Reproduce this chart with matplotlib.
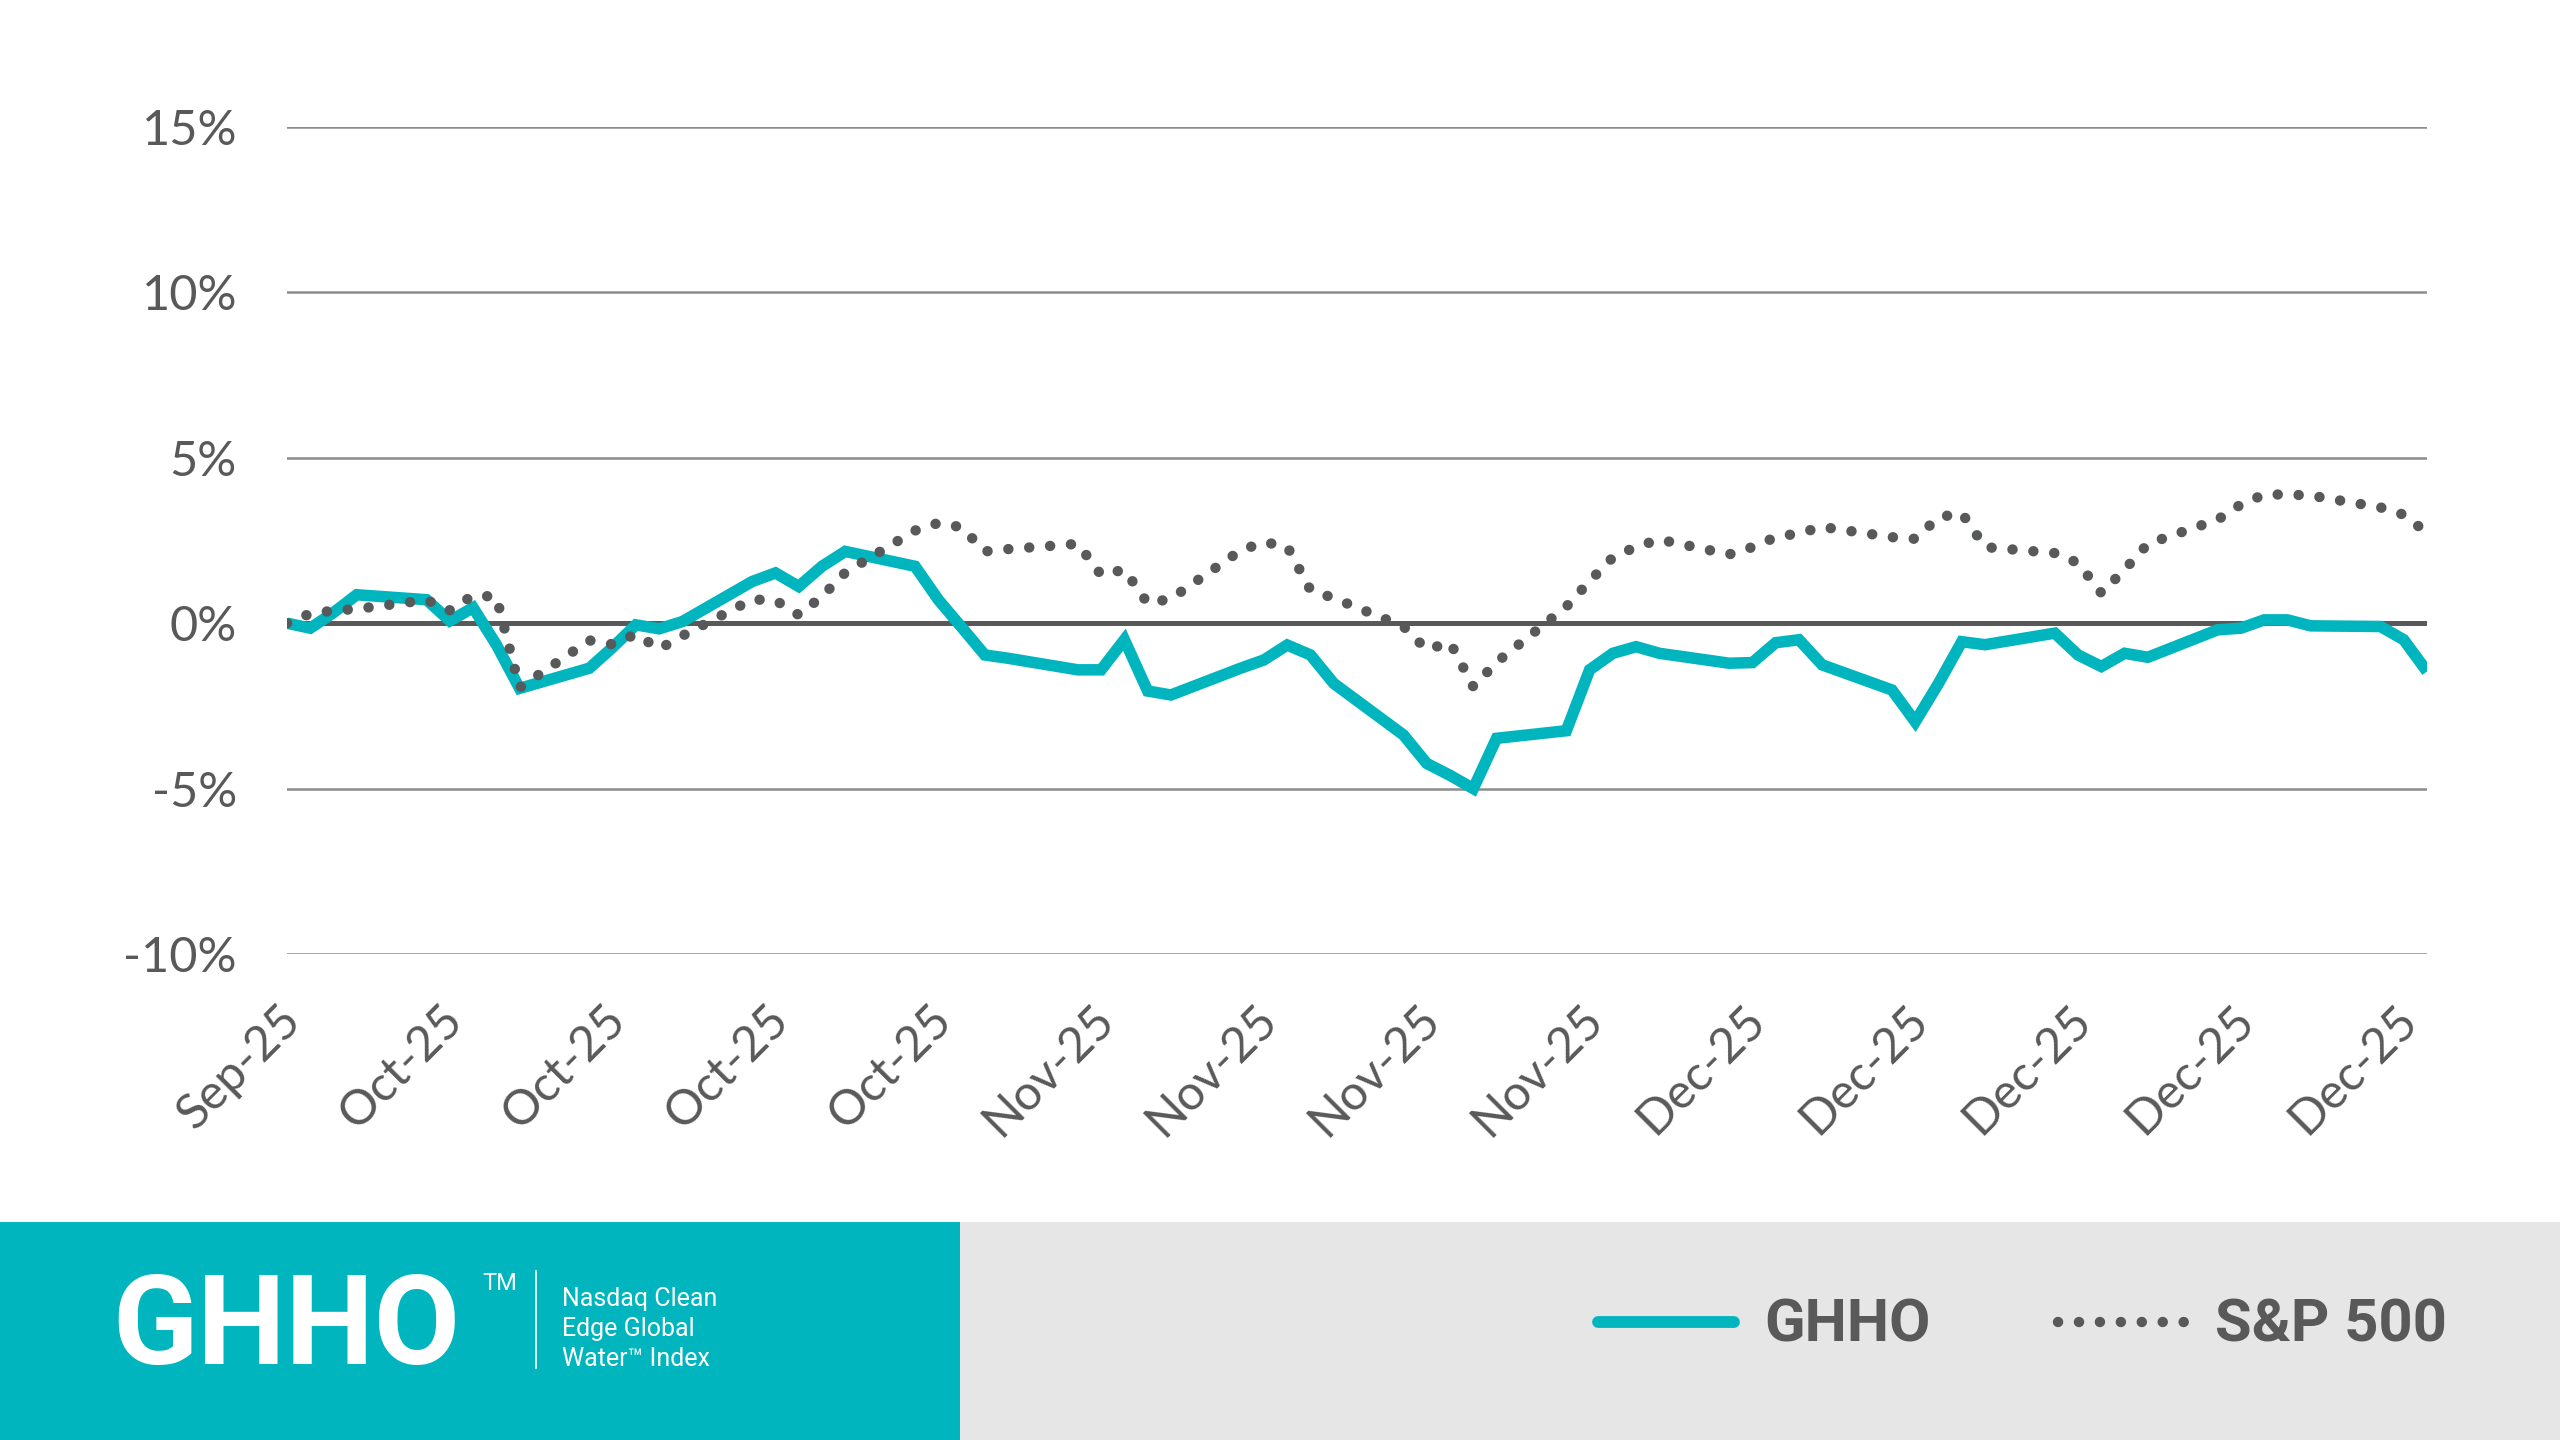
import pandas as pd
import matplotlib.pyplot as plt
import matplotlib.dates as mdates
import matplotlib.transforms as mtransforms
from matplotlib.lines import Line2D
from matplotlib.patches import Rectangle

# trading days (weekdays) shown in the chart
dates = pd.bdate_range("2025-09-30", "2025-12-31")

# cumulative return, %
ghho = [0.0, -0.15, 0.32, 0.86,
        0.71, 0.07, 0.47, -0.65, -1.97,
        -1.36, -0.73, -0.05, -0.17, 0.05,
        1.26, 1.52, 1.11, 1.72, 2.17,
        1.72, 0.71, -0.12, -0.96, -1.06,
        -1.41, -1.41, -0.5, -2.05, -2.17,
        -1.36, -1.11, -0.66, -0.96, -1.82,
        -3.38, -4.24, -4.6, -5.0, -3.48,
        -3.25, -1.41, -0.91, -0.71, -0.91,
        -1.21, -1.19, -0.59, -0.5, -1.26,
        -2.02, -2.98, -1.82, -0.56, -0.65,
        -0.3, -0.96, -1.31, -0.91, -1.03,
        -0.2, -0.15, 0.1, 0.1, -0.08,
        -0.1, -0.5, -1.46]

sp500 = [0.0, 0.29, 0.38, 0.43,
         0.7, 0.39, 0.84, 0.8, -1.95,
         -0.52, -0.64, -0.33, -0.78, -0.38,
         0.72, 0.69, 0.25, 0.81, 1.53,
         2.8, 3.03, 2.9, 2.17, 2.24,
         2.4, 1.46, 1.62, 0.6, 0.74,
         2.2, 2.45, 2.32, 1.0, 0.76,
         -0.1, -0.8, -0.58, -1.92, -1.18,
         0.5, 1.27, 1.99, 2.31, 2.53,
         2.08, 2.3, 2.6, 2.72, 2.91,
         2.6, 2.55, 3.2, 3.33, 2.3,
         2.12, 1.82, 0.91, 1.62, 2.4,
         3.13, 3.59, 3.89, 3.89, 3.86,
         3.5, 3.28, 2.73]

tick_dates = pd.date_range("2025-09-30", "2025-12-30", freq="7D")
y_ticks = [-10, -5, 0, 5, 10, 15]

teal = "#00b5be"
dark = "#58595b"
text_gray = "#595959"
dotted = (0, (0.01, 2.0))

plt.rcParams["font.family"] = ["Lato", "DejaVu Sans"]

fig = plt.figure(figsize=(25.6, 14.4), dpi=100)
fig.patch.set_facecolor("white")

ax = fig.add_axes([287 / 2560, 1 - 954 / 1440, 2140 / 2560, 827 / 1440])
ax.set_facecolor("white")
for s in ax.spines.values():
    s.set_visible(False)

ax.set_ylim(-10, 15)
ax.set_xlim(pd.Timestamp("2025-09-30"), pd.Timestamp("2025-12-31"))
ax.set_yticks(y_ticks)
ax.set_yticklabels([f"{v}%" for v in y_ticks])
ax.yaxis.grid(True, color="#8c8c8c", linewidth=1.8, zorder=0)
ax.set_axisbelow(True)
ax.axhline(0, color=text_gray, linewidth=3.6, zorder=1)

ax.plot(dates, ghho, color=teal, linewidth=8.3, solid_joinstyle="miter",
        solid_capstyle="butt", zorder=2)
ax.plot(dates, sp500, color=dark, linewidth=7.5, linestyle=dotted,
        dash_capstyle="round", zorder=3)

ax.set_xticks(tick_dates)
ax.xaxis.set_major_formatter(mdates.DateFormatter("%b-%y"))
ax.tick_params(axis="both", length=0, labelsize=35, colors=text_gray)
ax.tick_params(axis="y", pad=36)
ax.tick_params(axis="x", pad=42)
shift = mtransforms.ScaledTranslation(6 / 100, 0, fig.dpi_scale_trans)
for lab in ax.get_xticklabels():
    lab.set_rotation(45)
    lab.set_ha("right")
    lab.set_va("center")
    lab.set_rotation_mode("anchor")
    lab.set_transform(lab.get_transform() + shift)

# bottom banner
fig.patches.append(Rectangle((0, 0), 960 / 2560, 218 / 1440, transform=fig.transFigure,
                             facecolor=teal, edgecolor="none"))
fig.patches.append(Rectangle((960 / 2560, 0), 1600 / 2560, 218 / 1440,
                             transform=fig.transFigure, facecolor="#e6e6e6",
                             edgecolor="none"))

fig.text(112 / 2560, 1 - 1364 / 1440, "GHHO", color="white", fontsize=90,
         family="Roboto", weight="bold", ha="left", va="baseline")
fig.text(482 / 2560, 1 - 1272 / 1440, "TM", color="white", fontsize=17,
         family="Roboto", ha="left", va="top")
fig.add_artist(Line2D([536 / 2560, 536 / 2560], [1 - 1368 / 1440, 1 - 1271 / 1440],
                      transform=fig.transFigure, color="white", linewidth=1.2))
for i, line in enumerate(["Nasdaq Clean", "Edge Global", "Water\u2122 Index"]):
    fig.text(562 / 2560, 1 - (1306 + 30 * i) / 1440, line, color="white",
             fontsize=18, family="Roboto", ha="left", va="baseline")

# legend
fig.add_artist(Line2D([1598 / 2560, 1734 / 2560], [1 - 1322 / 1440] * 2,
                      transform=fig.transFigure, color=teal, linewidth=8.5,
                      solid_capstyle="round"))
fig.text(1764 / 2560, 1 - 1342 / 1440, "GHHO", color=text_gray, fontsize=43,
         family="Roboto", weight="bold", ha="left", va="baseline")
fig.add_artist(Line2D([2058 / 2560, 2190 / 2560], [1 - 1322 / 1440] * 2,
                      transform=fig.transFigure, color=dark, linewidth=7.5,
                      linestyle=dotted, dash_capstyle="round"))
fig.text(2215 / 2560, 1 - 1342 / 1440, "S&P 500", color=text_gray, fontsize=43,
         family="Roboto", weight="bold", ha="left", va="baseline")

fig.savefig("out.png", dpi=100)
